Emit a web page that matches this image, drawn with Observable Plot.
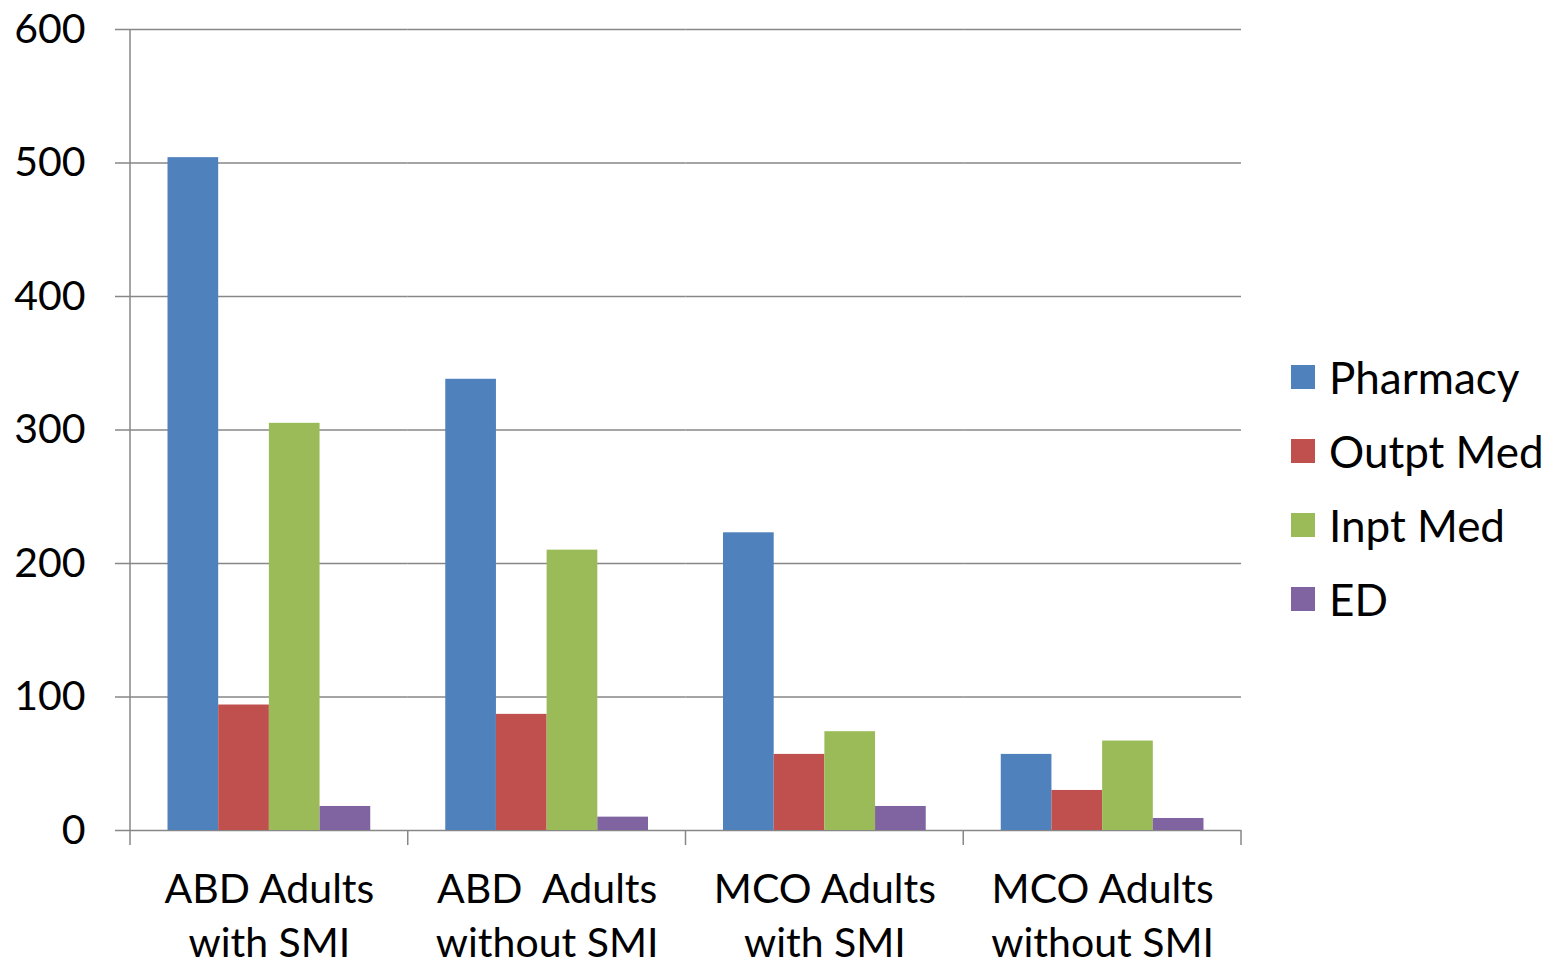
<!DOCTYPE html>
<html>
<head>
<meta charset="utf-8">
<script src="https://cdn.jsdelivr.net/npm/d3@7"></script>
<script src="https://cdn.jsdelivr.net/npm/@observablehq/plot@0.6"></script>
<style>
  html, body { margin: 0; padding: 0; background: #fff; }
  body { width: 1552px; height: 969px; position: relative; overflow: hidden; font-family: Lato, "Open Sans", sans-serif; }
  #chart { position: absolute; left: 0; top: 0; }
  #legend { position: absolute; left: 1291px; top: 340px; }
  .row { display: flex; align-items: center; height: 74px; font-size: 44px; color: #000; }
  .sw { width: 24px; height: 24px; margin-right: 14px; flex: none; }
</style>
</head>
<body>
<div id="chart"></div>
<div id="legend"></div>
<script>
const categories = ["ABD Adults\nwith SMI", "ABD  Adults\nwithout SMI", "MCO Adults\nwith SMI", "MCO Adults\nwithout SMI"];
const series = ["Pharmacy", "Outpt Med", "Inpt Med", "ED"];
const pharmacy = [504, 338, 223, 57];
const outptMed = [94, 87, 57, 30];
const inptMed = [305, 210, 74, 67];
const ed = [18, 10, 18, 9];
const yTicks = [0, 100, 200, 300, 400, 500, 600];
const colors = ["#4F81BD", "#C0504D", "#9BBB59", "#8064A2"];

const valuesBySeries = [pharmacy, outptMed, inptMed, ed];
const rows = categories.flatMap((c, i) => series.map((s, j) => ({category: c, series: s, value: valuesBySeries[j][i]})));

const gridColor = "#878787";

const plot = Plot.plot({
  width: 1280,
  height: 969,
  marginLeft: 130,
  marginRight: 39,
  marginTop: 29,
  marginBottom: 139,
  style: {fontFamily: "Lato, 'Open Sans', sans-serif", fontSize: "41px", color: "#000", background: "white", overflow: "visible"},
  fx: {domain: categories, padding: 0, axis: null, round: false},
  x: {domain: series, paddingInner: 0, paddingOuter: 0.74, axis: null, round: false},
  y: {domain: [0, 600], axis: null},
  color: {domain: series, range: colors},
  marks: [
    Plot.ruleY(yTicks, {stroke: gridColor, strokeWidth: 1.5}),
    Plot.barY(rows, {fx: "category", x: "series", y: "value", fill: "series"}),
    Plot.axisY({ticks: yTicks, tickSize: 15, tickPadding: 30, stroke: gridColor, strokeWidth: 1.5, fontSize: 41, label: null, strokeOpacity: 1}),
    Plot.text(categories, {fx: d => d, text: d => d, frameAnchor: "bottom", lineAnchor: "top", dy: 33, lineHeight: 1.34, fontSize: 41, fill: "#000"})
  ]
});

document.getElementById("chart").appendChild(plot);

// axis line and category boundary ticks, positioned through the plot's own scales
const fx = plot.scale("fx");
const y = plot.scale("y");
const svg = d3.select(plot);
const y0 = y.apply(0);
const yTop = y.apply(600);
const bounds = categories.map(c => fx.apply(c));
bounds.push(fx.apply(categories[categories.length - 1]) + fx.bandwidth);
const g = svg.append("g").attr("stroke", gridColor).attr("stroke-width", 1.5);
g.append("line").attr("x1", bounds[0]).attr("x2", bounds[0]).attr("y1", yTop).attr("y2", y0 + 15);
bounds.slice(1).forEach(b => {
  g.append("line").attr("x1", b).attr("x2", b).attr("y1", y0).attr("y2", y0 + 15);
});

// legend
const legend = d3.select("#legend");
series.forEach((s, i) => {
  const r = legend.append("div").attr("class", "row");
  r.append("div").attr("class", "sw").style("background", colors[i]);
  r.append("span").text(s);
});
</script>
</body>
</html>
